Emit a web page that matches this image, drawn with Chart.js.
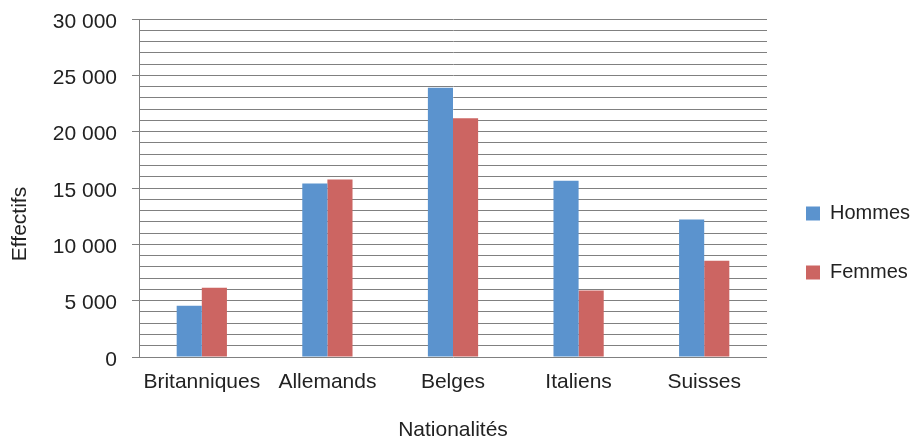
<!DOCTYPE html>
<html lang="fr">
<head>
<meta charset="utf-8">
<title>Effectifs par nationalité</title>
<script src="https://cdn.jsdelivr.net/npm/chart.js@4/dist/chart.umd.min.js"></script>
<style>
  html, body { margin: 0; padding: 0; background: #fff; }
  #wrap { position: relative; width: 912px; height: 438px; }
</style>
</head>
<body>
<div id="wrap"><canvas id="chart"></canvas></div>
<script>
const categories = ["Britanniques", "Allemands", "Belges", "Italiens", "Suisses"];
const hommes = [4550, 15400, 23900, 15650, 12200];
const femmes = [6150, 15750, 21200, 5900, 8550];
const yMax = 30000;
const yStep = 1000;
const yLabelStep = 5000;

const GRID = "#808080";
const TEXT = "#222";

Chart.defaults.font.family = "'Liberation Sans', Arial, sans-serif";
Chart.defaults.font.size = 21;
Chart.defaults.color = TEXT;

const fmt = v => String(v).replace(/\B(?=(\d{3})+(?!\d))/g, " ");

// y title sits lower than the plot centre in the original, so draw it by hand
const yTitle = {
  id: "yTitle",
  afterDraw(chart) {
    const ctx = chart.ctx;
    ctx.save();
    ctx.translate(20, 224);
    ctx.rotate(-Math.PI / 2);
    ctx.font = "21px 'Liberation Sans', Arial, sans-serif";
    ctx.fillStyle = TEXT;
    ctx.textAlign = "center";
    ctx.textBaseline = "middle";
    ctx.fillText("Effectifs", 0, 0);
    ctx.restore();
  }
};

new Chart(document.getElementById("chart"), {
  type: "bar",
  data: {
    labels: categories,
    datasets: [
      { label: "Hommes", data: hommes, backgroundColor: "#5b93ce", borderWidth: 0 },
      { label: "Femmes", data: femmes, backgroundColor: "#cc6562", borderWidth: 0 }
    ]
  },
  options: {
    responsive: true,
    maintainAspectRatio: false,
    animation: false,
    layout: { padding: { top: 19, left: 0, right: 0, bottom: 0 } },
    datasets: { bar: { categoryPercentage: 0.4, barPercentage: 1 } },
    plugins: {
      tooltip: { enabled: false },
      legend: {
        position: "right",
        align: "center",
        maxWidth: 145,
        title: { display: true, text: "", font: { size: 1, lineHeight: "29px" }, padding: 0 },
        labels: {
          boxWidth: 14,
          boxHeight: 14,
          padding: 39,
          font: { size: 20 },
          color: TEXT
        }
      }
    },
    scales: {
      x: {
        grid: { display: false, drawTicks: false },
        border: { display: false },
        ticks: { padding: 13, autoSkip: false, maxRotation: 0 },
        title: {
          display: true,
          text: "Nationalités",
          font: { size: 21, lineHeight: "16px" },
          padding: 0
        },
        afterFit: s => { s.height = 81; s.paddingLeft = 0; s.paddingRight = 0; }
      },
      y: {
        min: 0,
        max: yMax,
        grid: {
          color: GRID,
          lineWidth: 1,
          drawTicks: true,
          tickLength: 7,
          tickColor: c => (c.tick && c.tick.value % yLabelStep === 0 ? GRID : "rgba(0,0,0,0)")
        },
        border: { color: GRID, width: 1 },
        ticks: {
          stepSize: yStep,
          autoSkip: false,
          padding: 15,
          labelOffset: 3,
          callback: v => (v % yLabelStep === 0 ? fmt(v) : "")
        },
        afterFit: s => { s.width = 139; s.paddingTop = 0; s.paddingBottom = 0; }
      }
    }
  },
  plugins: [yTitle]
});
</script>
</body>
</html>
